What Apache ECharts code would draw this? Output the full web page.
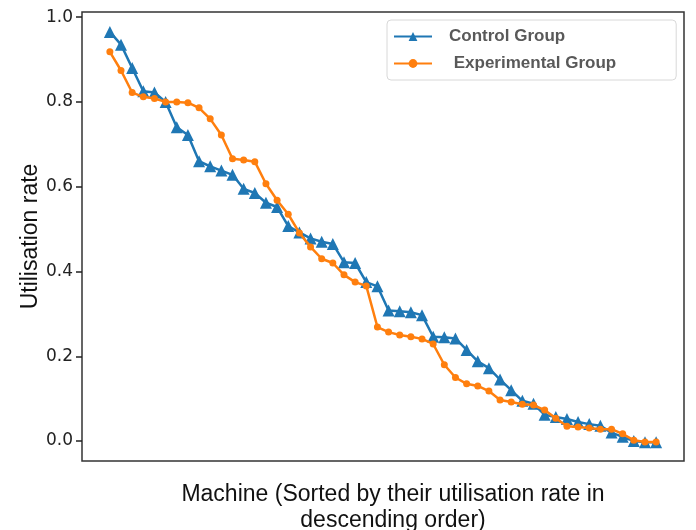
<!DOCTYPE html>
<html>
<head>
<meta charset="utf-8">
<script src="https://cdn.jsdelivr.net/npm/echarts@6/dist/echarts.min.js"></script>
<style>
  html, body { margin: 0; padding: 0; background: #fff; }
  #main { width: 696px; height: 530px; }
</style>
</head>
<body>
<div id="main"></div>
<script>
// machines sorted by utilisation rate (index 0..49)
var controlGroup = [
    0.965, 0.935, 0.88, 0.825, 0.822, 0.80, 0.74, 0.722, 0.66, 0.648,
    0.638, 0.628, 0.595, 0.585, 0.562, 0.552, 0.507, 0.492, 0.478, 0.47,
    0.465, 0.422, 0.42, 0.375, 0.365, 0.308, 0.306, 0.304, 0.297, 0.246,
    0.245, 0.242, 0.215, 0.188, 0.172, 0.145, 0.12, 0.095, 0.088, 0.062,
    0.057, 0.052, 0.045, 0.04, 0.036, 0.02, 0.01, 0.0, -0.003, -0.003
];
var experimentalGroup = [
    0.918, 0.874, 0.822, 0.812, 0.808, 0.80, 0.80, 0.798, 0.786, 0.76,
    0.722, 0.666, 0.663, 0.659, 0.607, 0.568, 0.535, 0.491, 0.458, 0.43,
    0.42, 0.392, 0.375, 0.366, 0.269, 0.257, 0.25, 0.246, 0.241, 0.229,
    0.18, 0.15, 0.135, 0.13, 0.118, 0.097, 0.092, 0.087, 0.085, 0.073,
    0.054, 0.035, 0.033, 0.031, 0.028, 0.028, 0.017, 0.002, -0.002, -0.002
];
var yTicks = [0.0, 0.2, 0.4, 0.6, 0.8, 1.0];

function pairs(arr) {
    return arr.map(function (v, i) { return [i, v]; });
}

var myChart = echarts.init(document.getElementById('main'));
var option = {
    animation: false,
    title: {
        text: 'Machine (Sorted by their utilisation rate in\ndescending order)',
        left: 388,
        top: 477,
        textAlign: 'center',
        textStyle: {
            fontFamily: 'Liberation Sans',
            fontSize: 23,
            fontWeight: 'normal',
            color: '#111',
            lineHeight: 26
        }
    },
    legend: {
        orient: 'vertical',
        left: 387,
        top: 20,
        width: 289,
        padding: [8, 60, 8, 6],
        itemGap: 10,
        itemWidth: 38,
        itemHeight: 11,
        backgroundColor: '#fff',
        borderColor: '#d8d8d8',
        borderWidth: 1,
        borderRadius: 4,
        textStyle: {
            fontFamily: 'Liberation Sans',
            fontSize: 17,
            fontWeight: 'bold',
            color: '#595959',
            padding: [0, 0, 0, 12]
        },
        data: ['Control Group', ' Experimental Group']
    },
    grid: {
        left: 82,
        right: 12,
        top: 12,
        bottom: 69,
        show: true,
        borderColor: '#333',
        borderWidth: 1.5
    },
    xAxis: {
        type: 'value',
        min: -2.5,
        max: 51.5,
        axisLine: { show: false },
        axisTick: { show: false },
        axisLabel: { show: false },
        splitLine: { show: false }
    },
    yAxis: {
        type: 'value',
        min: -0.047,
        max: 1.012,
        name: 'Utilisation rate',
        nameLocation: 'middle',
        nameGap: 40,
        nameMoveOverlap: false,
        nameTextStyle: {
            fontFamily: 'Liberation Sans',
            fontSize: 23,
            color: '#111'
        },
        axisLine: { show: false, onZero: false },
        axisTick: {
            show: true,
            inside: false,
            length: 6,
            customValues: yTicks,
            lineStyle: { color: '#222', width: 1.5 }
        },
        axisLabel: {
            customValues: yTicks,
            fontFamily: 'DejaVu Sans',
            fontSize: 17,
            color: '#222',
            margin: 9,
            formatter: function (v) { return v.toFixed(1); }
        },
        splitLine: { show: false }
    },
    series: [
        {
            name: 'Control Group',
            type: 'line',
            data: pairs(controlGroup),
            symbol: 'triangle',
            symbolSize: 12,
            color: '#1f77b4',
            lineStyle: { width: 2.5 },
            z: 2
        },
        {
            name: ' Experimental Group',
            type: 'line',
            data: pairs(experimentalGroup),
            symbol: 'circle',
            symbolSize: 7,
            color: '#ff7f0e',
            lineStyle: { width: 2.5 },
            z: 3
        }
    ]
};
myChart.setOption(option);
</script>
</body>
</html>
